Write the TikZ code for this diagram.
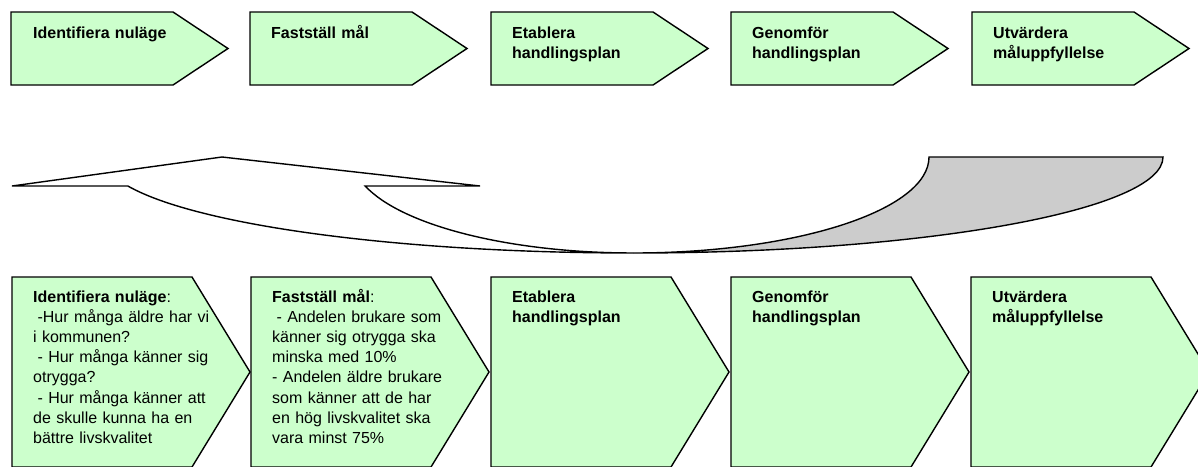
\documentclass[tikz,border=0pt]{standalone}
\usepackage{fontspec}
\setmainfont{Liberation Sans}
\definecolor{boxgreen}{HTML}{CCFFCC}
\definecolor{backgray}{HTML}{CCCCCC}
\tikzset{
  stepshape/.style={draw=black, fill=boxgreen, line width=1.4pt, line join=miter},
  toptext/.style={anchor=base west, inner sep=0pt, text width=200pt, align=left,
    font=\fontsize{16}{20.5}\selectfont\bfseries},
  bottext/.style={anchor=base west, inner sep=0pt, text width=215pt, align=left,
    font=\fontsize{16}{20.2}\selectfont},
  arrowpart/.style={draw=black, line width=1.4pt, line join=miter}
}
\begin{document}
\begin{tikzpicture}[x=1pt,y=-1pt]
\useasboundingbox (0,0) rectangle (1198,466);
\clip (0,0) rectangle (1198,466);
% ---------- top row ----------
\foreach \L/\nm in {11/t1,250/t2,491/t3,731/t4,972/t5}{
  \draw[stepshape] (\L,12) coordinate (\nm-a) -- ++(162,0) -- ++(55,36.5) -- ++(-55,36.5) -- (\L,85) -- cycle;
}
\node[toptext] (tt1) at (33,38) {Identifiera nuläge};
\node[toptext] (tt2) at (271,38) {Fastställ mål};
\node[toptext] (tt3) at (512,38) {Etablera\\handlingsplan};
\node[toptext] (tt4) at (752,38) {Genomför\\handlingsplan};
\node[toptext] (tt5) at (993,38) {Utvärdera\\måluppfyllelse};
% ---------- curved arrow ----------
\coordinate (ctr) at (633,157);
\draw[arrowpart, fill=backgray] (929,157) coordinate (g1) -- (1163,157) coordinate (g2)
  arc[start angle=0, end angle=90, x radius=530, y radius=96]
  arc[start angle=90, end angle=0, x radius=296, y radius=96] -- cycle;
\draw[arrowpart, fill=white] (12,186) coordinate (h1) -- (222,157) coordinate (h2) -- (480,186) coordinate (h3)
  -- (365.2,186) coordinate (h4)
  arc[start angle=162.4, end angle=90, x radius=281, y radius=96]
  arc[start angle=90, end angle=162.4, x radius=530, y radius=96] -- cycle;
% ---------- bottom row ----------
\foreach \L/\nm in {12/b1,251/b2,491/b3,731/b4,971/b5}{
  \draw[stepshape] (\L,277) coordinate (\nm-a) -- ++(180,0) -- ++(58,95) -- ++(-58,95) -- (\L,467) -- cycle;
}
\node[bottext] (bt1) at (33,302) {\textbf{Identifiera nuläge}:\\
\hspace*{4.4pt}-Hur många äldre har vi\\
i kommunen?\\
\hspace*{4.4pt}- Hur många känner sig\\
otrygga?\\
\hspace*{4.4pt}- Hur många känner att\\
de skulle kunna ha en\\
bättre livskvalitet};
\node[bottext] (bt2) at (272,302) {\textbf{Fastställ mål}:\\
\hspace*{4.4pt}- Andelen brukare som\\
känner sig otrygga ska\\
minska med 10\%\\
- Andelen äldre brukare\\
som känner att de har\\
en hög livskvalitet ska\\
vara minst 75\%};
\node[bottext, font=\fontsize{16}{20.5}\selectfont\bfseries] (bt3) at (512,302) {Etablera\\handlingsplan};
\node[bottext, font=\fontsize{16}{20.5}\selectfont\bfseries] (bt4) at (752,302) {Genomför\\handlingsplan};
\node[bottext, font=\fontsize{16}{20.5}\selectfont\bfseries] (bt5) at (992,302) {Utvärdera\\måluppfyllelse};
\end{tikzpicture}
\end{document}
